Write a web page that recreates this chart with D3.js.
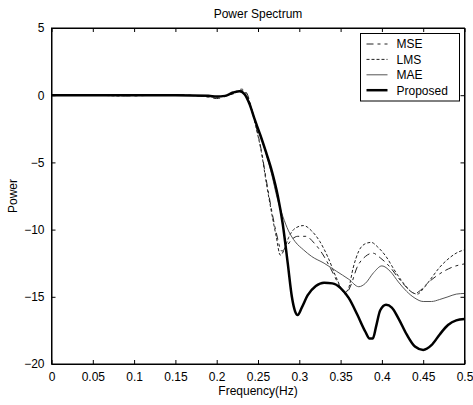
<!DOCTYPE html>
<html>
<head>
<meta charset="utf-8">
<script src="https://cdn.jsdelivr.net/npm/d3@7"></script>
<style>
  body { margin: 0; background: #fff; }
  text { font-family: "Liberation Sans", Arial, sans-serif; fill: #000; }
</style>
</head>
<body>
<div id="container"></div>
<script>
'use strict';

const width = 473,
      height = 405,
      margin = {top: 28, bottom: 41, right: 8.5, left: 51.5};

const xTicks = [0, 0.05, 0.1, 0.15, 0.2, 0.25, 0.3, 0.35, 0.4, 0.45, 0.5];
const yTicks = [5, 0, -5, -10, -15, -20];

// [frequency, power]
const mse = [
  [0, 0], [0.03, 0.05], [0.06, 0], [0.1, -0.05], [0.14, 0.05], [0.17, 0],
  [0.19, -0.15], [0.2, -0.25], [0.21, -0.1], [0.22, 0.15], [0.23, 0.45],
  [0.236, 0.2], [0.242, -0.9], [0.248, -2.4], [0.254, -4.1], [0.26, -6.3],
  [0.266, -8.4], [0.272, -10.2], [0.279, -11.6], [0.284, -11.3], [0.29, -10.8],
  [0.298, -10.5], [0.308, -10.5], [0.318, -11.0], [0.328, -11.8], [0.338, -12.9],
  [0.348, -14.1], [0.356, -14.8], [0.362, -14.2], [0.37, -12.8], [0.38, -12.0],
  [0.389, -11.75], [0.398, -12.1], [0.41, -12.8], [0.42, -13.6], [0.43, -14.3],
  [0.44, -14.75], [0.447, -14.5], [0.455, -14.0], [0.465, -13.5], [0.475, -13.1],
  [0.485, -12.8], [0.5, -12.55]
];

const lms = [
  [0, 0], [0.04, 0.05], [0.08, -0.05], [0.12, 0.05], [0.16, 0], [0.19, -0.1],
  [0.2, -0.15], [0.21, -0.05], [0.22, 0.1], [0.23, 0.35], [0.236, 0.1],
  [0.242, -1.0], [0.248, -2.5], [0.254, -4.2], [0.26, -6.5], [0.266, -8.6],
  [0.272, -10.5], [0.277, -11.9], [0.281, -11.6], [0.287, -10.6], [0.295, -9.9],
  [0.305, -9.7], [0.315, -10.1], [0.325, -10.9], [0.335, -12.1], [0.345, -13.6],
  [0.355, -14.7], [0.36, -14.3], [0.365, -12.9], [0.372, -11.6], [0.38, -11.05],
  [0.387, -10.95], [0.395, -11.3], [0.405, -12.0], [0.415, -13.0], [0.425, -13.9],
  [0.435, -14.6], [0.443, -14.8], [0.45, -14.4], [0.46, -13.6], [0.47, -12.8],
  [0.48, -12.2], [0.49, -11.75], [0.5, -11.5]
];

const mae = [
  [0, 0], [0.05, 0], [0.1, 0], [0.15, 0], [0.19, -0.05], [0.2, -0.1],
  [0.21, -0.05], [0.22, 0.2], [0.228, 0.3], [0.234, 0.05], [0.24, -0.7],
  [0.246, -1.8], [0.253, -3.0], [0.26, -4.4], [0.267, -6.0], [0.273, -7.6],
  [0.28, -9.0], [0.287, -10.1], [0.295, -10.9], [0.305, -11.5], [0.315, -12.0],
  [0.33, -12.5], [0.345, -13.1], [0.36, -13.7], [0.372, -14.25], [0.38, -14.0],
  [0.39, -13.2], [0.4, -12.7], [0.41, -13.1], [0.42, -13.9], [0.43, -14.6],
  [0.44, -15.1], [0.45, -15.35], [0.46, -15.35], [0.47, -15.2], [0.48, -15.0],
  [0.49, -14.8], [0.5, -14.75]
];

const proposed = [
  [0, 0], [0.05, 0], [0.1, 0], [0.15, 0], [0.19, -0.05], [0.2, -0.1],
  [0.21, -0.05], [0.22, 0.2], [0.228, 0.3], [0.234, 0.05], [0.24, -0.7],
  [0.246, -1.8], [0.253, -3.0], [0.26, -4.3], [0.267, -5.7], [0.274, -7.5],
  [0.28, -9.6], [0.286, -12.5], [0.291, -15.0], [0.295, -16.1], [0.298, -16.35],
  [0.303, -15.8], [0.31, -14.9], [0.32, -14.2], [0.33, -13.95], [0.34, -14.0],
  [0.35, -14.35], [0.36, -15.1], [0.37, -16.3], [0.38, -17.6], [0.385, -18.1],
  [0.389, -18.1], [0.393, -17.2], [0.398, -16.0], [0.405, -15.6], [0.412, -15.8],
  [0.42, -16.6], [0.43, -17.8], [0.44, -18.7], [0.45, -18.95], [0.46, -18.6],
  [0.47, -17.8], [0.48, -17.1], [0.49, -16.75], [0.5, -16.65]
];

const seriesNames = ["MSE", "LMS", "MAE", "Proposed"];
const series = [
  {name: "MSE", data: mse, stroke: "#222", width: 1, dash: "7,4,3,4"},
  {name: "LMS", data: lms, stroke: "#222", width: 1, dash: "3,2"},
  {name: "MAE", data: mae, stroke: "#555", width: 1, dash: null},
  {name: "Proposed", data: proposed, stroke: "#000", width: 2.5, dash: null}
];

const xScale = d3.scaleLinear()
  .domain([0, 0.5])
  .range([margin.left, width - margin.right]);

const yScale = d3.scaleLinear()
  .domain([-20, 5])
  .range([height - margin.bottom, margin.top]);

const svg = d3.select("#container")
  .append("svg")
  .attr("width", width)
  .attr("height", height);

svg.append("defs").append("clipPath")
  .attr("id", "plot-clip")
  .append("rect")
  .attr("x", margin.left)
  .attr("y", margin.top)
  .attr("width", width - margin.left - margin.right)
  .attr("height", height - margin.top - margin.bottom);

const line = d3.line()
  .x(d => xScale(d[0]))
  .y(d => yScale(d[1]))
  .curve(d3.curveMonotoneX);

svg.append("g")
  .attr("clip-path", "url(#plot-clip)")
  .selectAll("path")
  .data(series)
  .join("path")
  .attr("d", d => line(d.data))
  .attr("fill", "none")
  .attr("stroke", d => d.stroke)
  .attr("stroke-width", d => d.width)
  .attr("stroke-dasharray", d => d.dash)
  .attr("stroke-linejoin", "round");

// axes: bottom/left with labels, top/right just inward ticks
const xAxis = d3.axisBottom(xScale).tickValues(xTicks).tickSizeInner(-4).tickSizeOuter(0)
  .tickPadding(8).tickFormat(d => d3.format("")(d));
const yAxis = d3.axisLeft(yScale).tickValues(yTicks).tickSizeInner(-4).tickSizeOuter(0)
  .tickPadding(7);

svg.append("g")
  .attr("transform", `translate(0,${height - margin.bottom})`)
  .call(xAxis);
svg.append("g")
  .attr("transform", `translate(${margin.left},0)`)
  .call(yAxis);

svg.append("g")
  .attr("transform", `translate(0,${margin.top})`)
  .call(d3.axisTop(xScale).tickValues(xTicks).tickSizeInner(-4).tickSizeOuter(0).tickFormat(""));
svg.append("g")
  .attr("transform", `translate(${width - margin.right},0)`)
  .call(d3.axisRight(yScale).tickValues(yTicks).tickSizeInner(-4).tickSizeOuter(0).tickFormat(""));

svg.selectAll(".domain").attr("stroke", "#000");
svg.selectAll(".tick line").attr("stroke", "#000");
svg.selectAll(".tick text")
  .attr("font-family", "'Liberation Sans', Arial, sans-serif")
  .attr("font-size", 12)
  .attr("fill", "#000");

svg.append("rect")
  .attr("x", margin.left)
  .attr("y", margin.top)
  .attr("width", width - margin.left - margin.right)
  .attr("height", height - margin.top - margin.bottom)
  .attr("fill", "none")
  .attr("stroke", "#000");

// titles
svg.append("text")
  .attr("x", (margin.left + width - margin.right) / 2)
  .attr("y", 18)
  .attr("text-anchor", "middle")
  .attr("font-size", 12)
  .text("Power Spectrum");

svg.append("text")
  .attr("x", (margin.left + width - margin.right) / 2)
  .attr("y", 395)
  .attr("text-anchor", "middle")
  .attr("font-size", 12)
  .text("Frequency(Hz)");

svg.append("text")
  .attr("transform", `translate(17,${(margin.top + height - margin.bottom) / 2}) rotate(-90)`)
  .attr("text-anchor", "middle")
  .attr("font-size", 12)
  .text("Power");

// legend
const legend = svg.append("g").attr("transform", "translate(360.5,33.5)");

legend.append("rect")
  .attr("width", 99)
  .attr("height", 67.5)
  .attr("fill", "#fff")
  .attr("stroke", "#000");

const item = legend.selectAll(".item")
  .data(series)
  .join("g")
  .attr("class", "item")
  .attr("transform", (d, i) => `translate(0,${10.5 + i * 15.4})`);

item.append("line")
  .attr("x1", 6)
  .attr("x2", 27)
  .attr("stroke", d => d.stroke)
  .attr("stroke-width", d => d.width)
  .attr("stroke-dasharray", d => d.dash);

item.append("text")
  .attr("x", 36)
  .attr("dy", "0.36em")
  .attr("font-size", 12)
  .text((d, i) => seriesNames[i]);
</script>
</body>
</html>
